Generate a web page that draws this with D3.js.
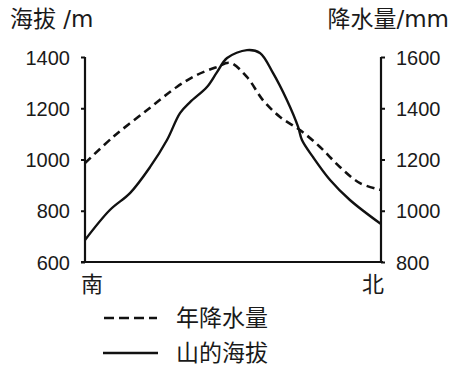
<!DOCTYPE html>
<html><head><meta charset="utf-8">
<script src="https://cdn.jsdelivr.net/npm/d3@7/dist/d3.min.js"></script>
<style>
html,body{margin:0;padding:0;background:#fff;}
svg{display:block;}
text{font-family:"Liberation Sans","Noto Sans CJK SC",sans-serif;fill:#1a1a1a;}
</style></head>
<body>
<script>
// position along the south→north profile (0 = 南, 100 = 北)
const elevPos = [0, 8.4, 15.2, 22, 27.7, 32.1, 35.5, 41.2, 44.6, 48, 54.7, 59.1, 63.5, 68.2, 72, 73.3, 77, 82.8, 89.5, 100];
const elevation = [686, 803, 869, 971, 1076, 1181, 1224, 1283, 1341, 1396, 1427, 1416, 1338, 1232, 1127, 1076, 1010, 920, 842, 748];
const precipPos = [0, 9.5, 21, 31, 37.8, 44.6, 49, 54.7, 60.1, 65.9, 72.6, 79.4, 86.1, 92.9, 100];
const precipitation = [1186, 1288, 1393, 1483, 1530, 1561, 1577, 1522, 1432, 1366, 1315, 1249, 1171, 1108, 1081];
const leftTicks = [600, 800, 1000, 1200, 1400];
const rightTicks = [800, 1000, 1200, 1400, 1600];
const leftTitle = "海拔 /m";
const rightTitle = "降水量/mm";
const endLabels = ["南", "北"];
const legendLabels = ["年降水量", "山的海拔"];

const W = 456, H = 373;
const svg = d3.select("body").append("svg").attr("width", W).attr("height", H);

const x = d3.scaleLinear().domain([0, 100]).range([85, 381]);
const yL = d3.scaleLinear().domain([600, 1400]).range([262, 57]);
const yR = d3.scaleLinear().domain([800, 1600]).range([262, 57]);

// axes
const axL = svg.append("g").attr("transform", "translate(85,0)")
  .call(d3.axisLeft(yL).tickValues(leftTicks).tickSize(4).tickPadding(11).tickFormat(d3.format("d")));
const axR = svg.append("g").attr("transform", "translate(381,0)")
  .call(d3.axisRight(yR).tickValues(rightTicks).tickSize(4).tickPadding(11).tickFormat(d3.format("d")));
[axL, axR].forEach(g => {
  g.select(".domain").remove();
  g.selectAll(".tick line").attr("stroke", "#111").attr("stroke-width", 2);
  g.selectAll(".tick text").attr("font-size", 20).attr("font-family", "Liberation Sans").attr("fill", "#1a1a1a").attr("dy", "0.35em");
});
// axis lines
svg.append("line").attr("x1", 85).attr("x2", 85).attr("y1", yL(1400)).attr("y2", yL(600)).attr("stroke", "#111").attr("stroke-width", 2.2);
svg.append("line").attr("x1", 381).attr("x2", 381).attr("y1", yR(1600)).attr("y2", yR(800)).attr("stroke", "#111").attr("stroke-width", 2.2);
svg.append("line").attr("x1", 81).attr("x2", 383).attr("y1", yL(600)).attr("y2", yL(600)).attr("stroke", "#111").attr("stroke-width", 2.2);

// curves
const lineElev = d3.line().x((d, i) => x(elevPos[i])).y(d => yL(d)).curve(d3.curveCatmullRom.alpha(0.5));
const linePrec = d3.line().x((d, i) => x(precipPos[i])).y(d => yR(d)).curve(d3.curveCatmullRom.alpha(0.5));
svg.append("path").attr("d", linePrec(precipitation)).attr("fill", "none").attr("stroke", "#111")
  .attr("stroke-width", 2.6).attr("stroke-dasharray", "8,5");
svg.append("path").attr("d", lineElev(elevation)).attr("fill", "none").attr("stroke", "#111")
  .attr("stroke-width", 2.4);

// titles
const titleFont = "'DejaVu Sans','Noto Sans CJK SC',sans-serif";
svg.append("text").attr("x", 10).attr("y", 19).attr("dominant-baseline", "central").attr("font-size", 23)
  .style("font-family", titleFont).text(leftTitle);
svg.append("text").attr("x", 449).attr("y", 19).attr("text-anchor", "end").attr("dominant-baseline", "central").attr("font-size", 23)
  .style("font-family", titleFont).text(rightTitle);

// end labels
svg.append("text").attr("x", 81).attr("y", 284).attr("dominant-baseline", "central").attr("font-size", 22).text(endLabels[0]);
svg.append("text").attr("x", 362).attr("y", 284).attr("dominant-baseline", "central").attr("font-size", 22).text(endLabels[1]);

// legend
const lg = svg.append("g");
lg.append("line").attr("x1", 104).attr("x2", 157).attr("y1", 318).attr("y2", 318).attr("stroke", "#111")
  .attr("stroke-width", 2.6).attr("stroke-dasharray", "10,5");
lg.append("line").attr("x1", 103).attr("x2", 158).attr("y1", 353).attr("y2", 353).attr("stroke", "#111")
  .attr("stroke-width", 2.6);
lg.append("text").attr("x", 176).attr("y", 318).attr("dominant-baseline", "central").attr("font-size", 23).text(legendLabels[0]);
lg.append("text").attr("x", 176).attr("y", 353).attr("dominant-baseline", "central").attr("font-size", 23).text(legendLabels[1]);
</script>
</body></html>
